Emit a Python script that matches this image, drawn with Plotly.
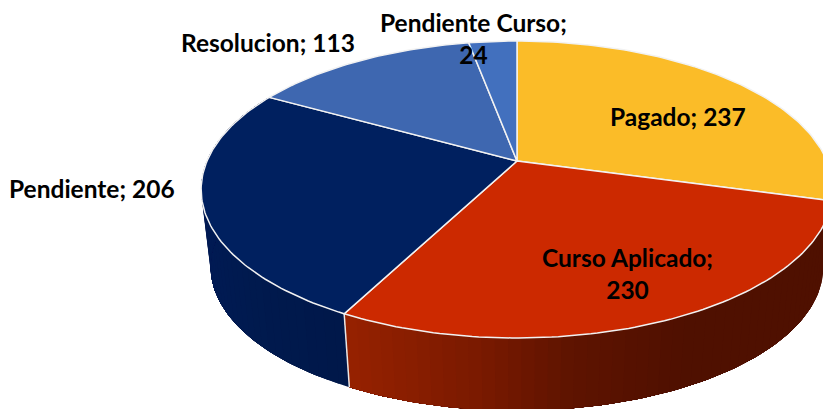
import math
import plotly.graph_objects as go

categories = ["Pagado", "Curso Aplicado", "Pendiente", "Resolucion", "Pendiente Curso"]
values = [237, 230, 206, 113, 24]
top_colors = ["#FBBC28", "#CC2900", "#00205F", "#3E67B0", "#4270BE"]

# Drawing geometry (perspective projection of a disc)
CX, CY, D, A, C = 517, 161, 310, 143, 0.192
DEPTH_Y, SHRINK = 78, 0.97
STEP = 1.0


def project(deg, bottom=False):
    t = math.radians(deg)
    u, v = math.sin(t), math.cos(t)
    den = 1 + C * v
    x, y = D * u / den, A * v / den
    if bottom:
        return CX + x * SHRINK, CY + DEPTH_Y - y * SHRINK
    return CX + x, CY - y


def arc(a0, a1, bottom=False):
    n = max(2, int(abs(a1 - a0) / STEP) + 1)
    return [project(a0 + (a1 - a0) * i / n, bottom) for i in range(n + 1)]


def mix(stops, t):
    for (t0, c0), (t1, c1) in zip(stops, stops[1:]):
        if t <= t1:
            f = max(0, (t - t0) / (t1 - t0))
            rgb = [int(c0[i:i + 2], 16) * (1 - f) + int(c1[i:i + 2], 16) * f for i in (1, 3, 5)]
            return "rgb(%d,%d,%d)" % tuple(rgb)
    return c1


red_side = [(345, "#972200"), (480, "#7A1A00"), (570, "#5F1400"), (690, "#4F1000"), (900, "#4F1000")]
navy_side = [(200, "#001B54"), (260, "#001A4E"), (340, "#00184A"), (360, "#00184A")]
side_stops = {1: red_side, 2: navy_side}

total = sum(values)
bounds = [0]
for val in values:
    bounds.append(bounds[-1] + val / total * 360)

fig = go.Figure()


def poly(points, fill, line_color=None, width=0.0):
    fig.add_trace(go.Scatter(
        x=[p[0] for p in points], y=[p[1] for p in points], mode="lines", fill="toself",
        fillcolor=fill, line=dict(color=line_color or fill, width=width), hoverinfo="skip", showlegend=False))


# Side wall of the two slices that face the viewer; each band runs on to the end of
# its slice and the next band paints over it, so no seams appear between bands.
for i in [2, 1]:
    end = bounds[i + 1]
    a = bounds[i]
    while a < end - 1e-9:
        top = arc(a, end)
        low = arc(a, end, True)
        b = min(a + STEP * 2, end)
        xm = (project(a)[0] + project(b)[0]) / 2
        poly(top + low[::-1] + [top[0]], mix(side_stops[i], xm))
        a = b

# Separator on the side wall
p, q = project(bounds[2]), project(bounds[2], True)
fig.add_trace(go.Scatter(x=[p[0], q[0]], y=[p[1], q[1]], mode="lines",
                         line=dict(color="#E8E8E8", width=1.5), hoverinfo="skip", showlegend=False))

# Top face
for i, col in enumerate(top_colors):
    pts = [(CX, CY)] + arc(bounds[i], bounds[i + 1]) + [(CX, CY)]
    poly(pts, col, "#F2F2F2", 1.5)

label_lines = [
    [f"{categories[0]}; {values[0]}"],
    [f"{categories[1]};", f"{values[1]}"],
    [f"{categories[2]}; {values[2]}"],
    [f"{categories[3]}; {values[3]}"],
    [f"{categories[4]};", f"{values[4]}"],
]
label_anchor = [(678, 116), (627, 273), (92, 188), (268, 42), (473, 38)]
for lines, (lx, ly) in zip(label_lines, label_anchor):
    fig.add_annotation(x=lx, y=ly, xref="x", yref="y", text="<br>".join(lines), showarrow=False,
                       align="center", font=dict(family="Lato", size=24.5, color="#000000", weight="bold"))

fig.update_layout(
    width=823, height=409, margin=dict(l=0, r=0, t=0, b=0),
    paper_bgcolor="white", plot_bgcolor="white", showlegend=False,
    xaxis=dict(range=[0, 823], visible=False, fixedrange=True),
    yaxis=dict(range=[409, 0], visible=False, fixedrange=True),
)
fig.write_html("out.html", config={"displayModeBar": False},
               post_script="document.body.style.margin='0';document.body.style.overflow='hidden';")
